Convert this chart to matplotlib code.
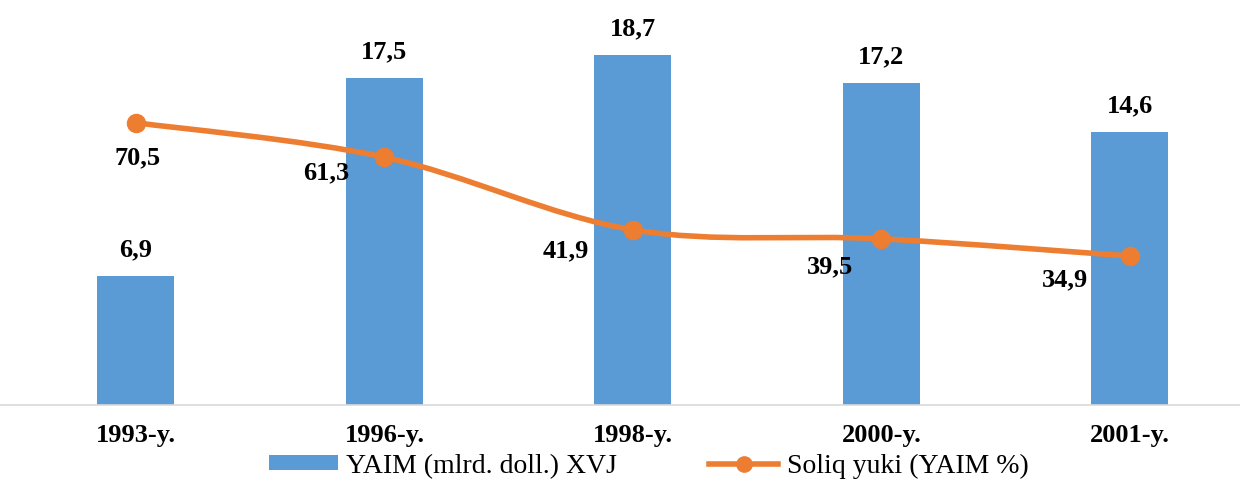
import numpy as np
import matplotlib.pyplot as plt
from matplotlib.path import Path
from matplotlib.patches import PathPatch, Patch
from matplotlib.lines import Line2D

plt.rcParams['font.family'] = ['Liberation Serif', 'DejaVu Serif']

# data
years = ['1993-y.', '1996-y.', '1998-y.', '2000-y.', '2001-y.']
yaim = [6.9, 17.5, 18.7, 17.2, 14.6]
soliq = [70.5, 61.3, 41.9, 39.5, 34.9]
yaim_lbl = ['6,9', '17,5', '18,7', '17,2', '14,6']
soliq_lbl = ['70,5', '61,3', '41,9', '39,5', '34,9']

blue = '#5B9BD5'
orange = '#ED7D31'

fig = plt.figure(figsize=(12.4, 4.8), dpi=100)
ax = fig.add_axes([0, 75 / 480, 1, 385 / 480])
x = np.arange(len(years))

ax.bar(x, yaim, width=0.31, color=blue, zorder=2)
ax.set_xlim(-0.547, 4.443)
ax.set_ylim(0, 20.59)
for xi, v, t in zip(x, yaim, yaim_lbl):
    ax.annotate(t, (xi, v), xytext=(0, 19), textcoords='offset points',
                ha='center', va='center', fontsize=19, fontweight='bold')

for s in ['top', 'left', 'right']:
    ax.spines[s].set_visible(False)
ax.spines['bottom'].set_color('#D9D9D9')
ax.spines['bottom'].set_linewidth(1.2)
ax.set_yticks([])
ax.set_xticks(x)
ax.set_xticklabels(years, fontsize=19, fontweight='bold')
ax.tick_params(axis='x', length=0, pad=14)

# secondary axis for tax burden line
ax2 = ax.twinx()
ax2.set_ylim(-4.89, 97.94)
ax2.set_yticks([])
for s in ax2.spines.values():
    s.set_visible(False)

# smoothed line (Catmull-Rom style bezier through the points)
pts = np.column_stack([x, soliq]).astype(float)
ext = np.vstack([pts[0], pts, pts[-1]])
verts = [pts[0]]
codes = [Path.MOVETO]
for i in range(len(pts) - 1):
    p0, p1, p2, p3 = ext[i], ext[i + 1], ext[i + 2], ext[i + 3]
    c1 = p1 + (p2 - p0) / 6
    c2 = p2 - (p3 - p1) / 6
    verts += [c1, c2, p2]
    codes += [Path.CURVE4] * 3
ax2.add_patch(PathPatch(Path(verts, codes), fill=False, edgecolor=orange,
                        lw=4, capstyle='round', zorder=3))
ax2.plot(x, soliq, 'o', color=orange, markersize=13, zorder=4)

offs = [(1, -25), (-42, -11), (-48, -15), (-37, -20), (-47, -17)]
for xi, v, t, o in zip(x, soliq, soliq_lbl, offs):
    ax2.annotate(t, (xi, v), xytext=o, textcoords='offset points',
                 ha='center', va='center', fontsize=19, fontweight='bold')

handles = [Patch(facecolor=blue),
           Line2D([], [], color=orange, lw=4, marker='o', markersize=11)]
fig.legend(handles, ['YAIM (mlrd. doll.) XVJ', 'Soliq yuki (YAIM %)'],
           loc='center', bbox_to_anchor=(0.523, 0.029), ncol=2, frameon=False,
           fontsize=20, handlelength=2.5, handleheight=0.47, columnspacing=3.3,
           handletextpad=0.3, borderpad=0)

fig.savefig('out.png', dpi=100)
